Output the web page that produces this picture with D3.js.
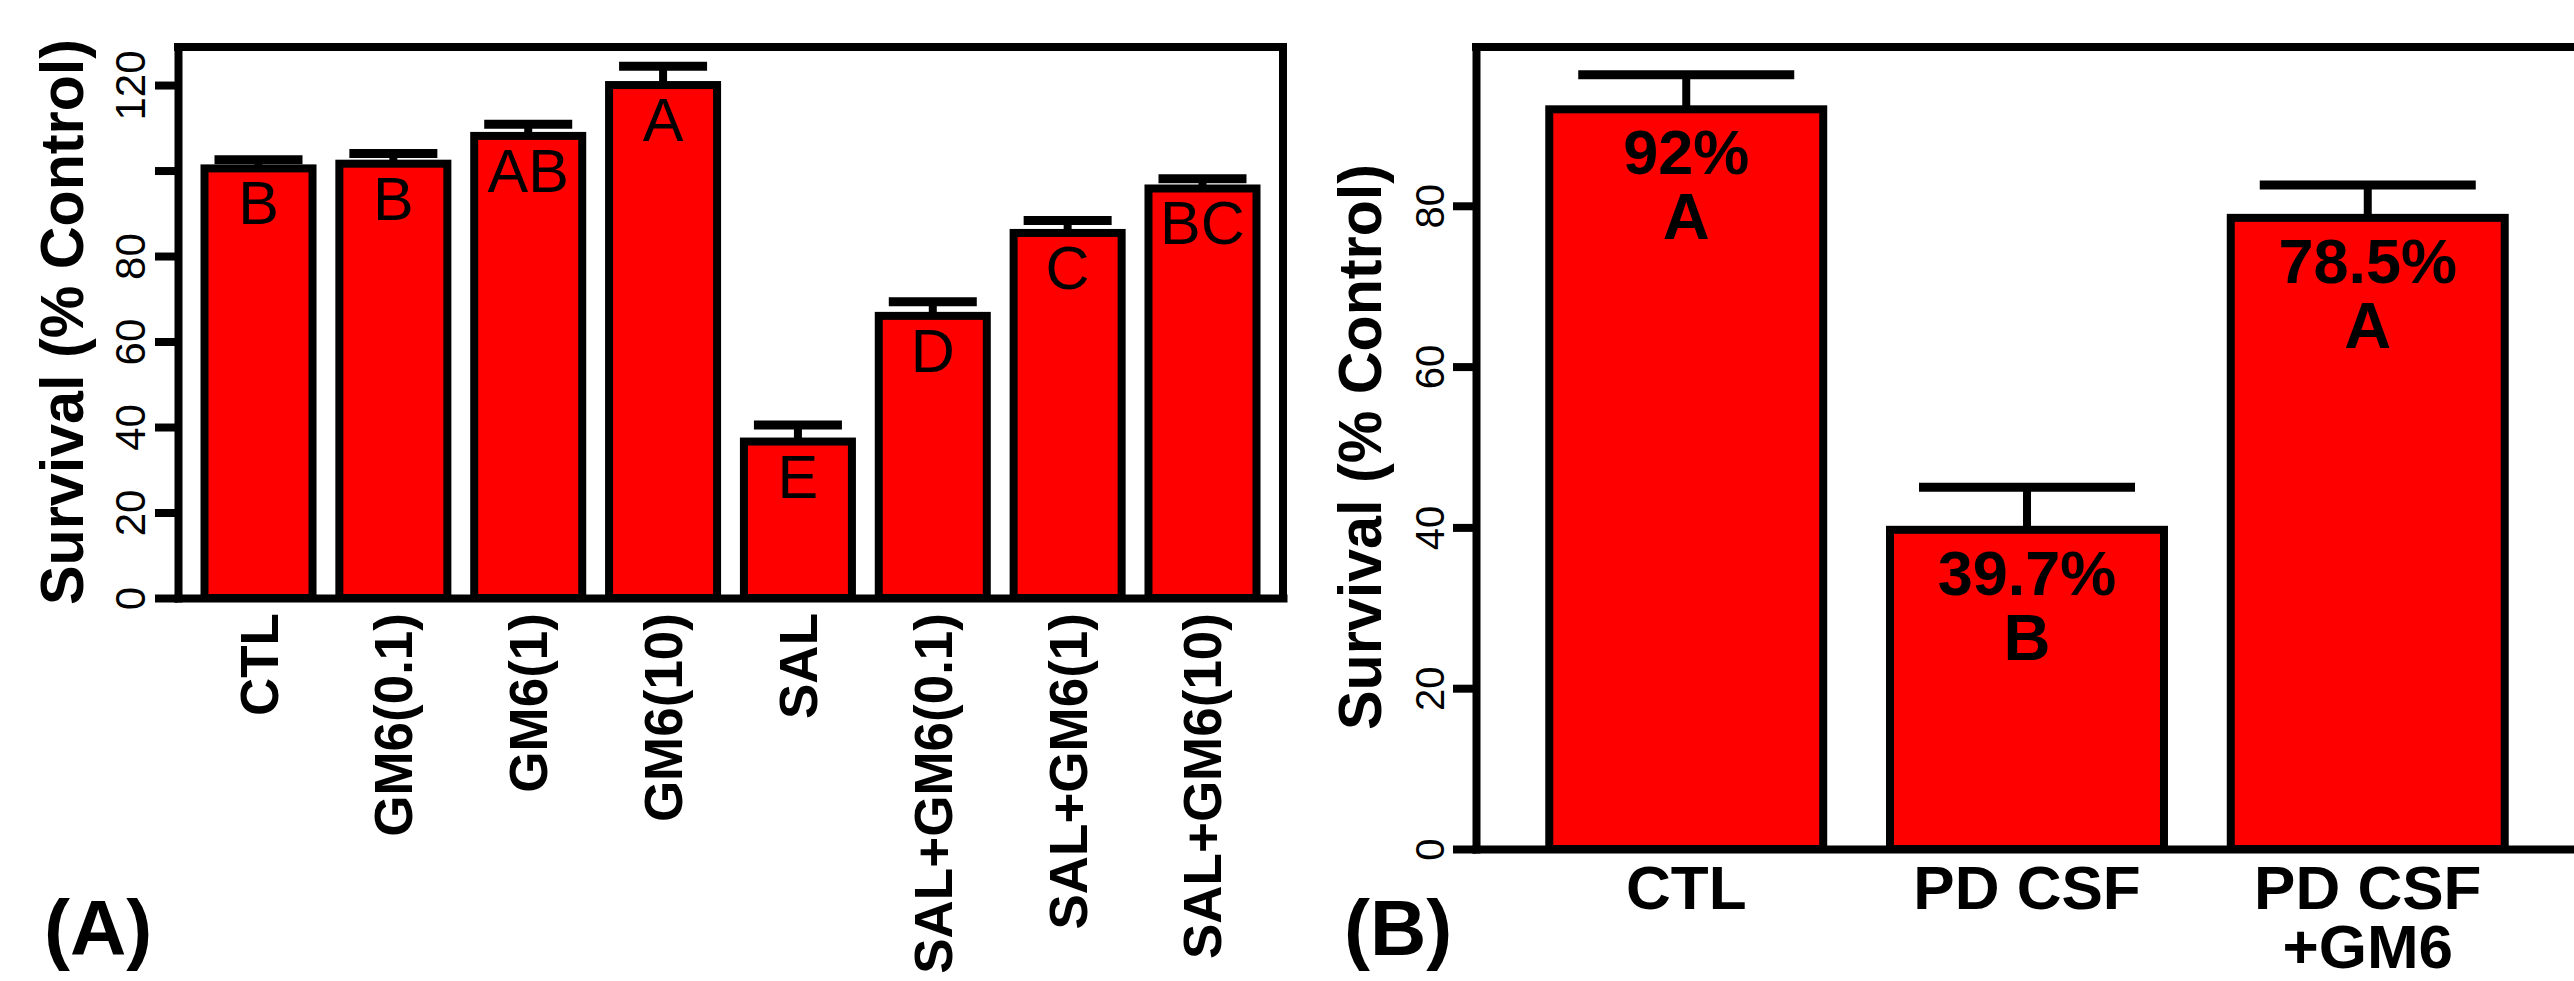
<!DOCTYPE html>
<html>
<head>
<meta charset="utf-8">
<script src="https://cdn.jsdelivr.net/npm/d3@7"></script>
<style>
    body { margin: 0; background: #fff; }
    text { font-family: "Liberation Sans", Arial, sans-serif; fill: #000; }
</style>
</head>
<body>
<svg id="chart"></svg>
<script>
// Panel A data: survival for each treatment
const panelACategories = ['CTL', 'GM6(0.1)', 'GM6(1)', 'GM6(10)', 'SAL', 'SAL+GM6(0.1)', 'SAL+GM6(1)', 'SAL+GM6(10)'];
const panelAValues = [100.5, 101.6, 108.1, 120.0, 36.6, 66.0, 85.4, 95.8];
const panelAErrors = [2.0, 2.4, 2.7, 4.4, 3.9, 3.3, 2.9, 2.3];
const panelALetters = ['B', 'B', 'AB', 'A', 'E', 'D', 'C', 'BC'];
const panelATicks = [0, 20, 40, 60, 80, 100, 120];
const panelATickLabels = ['0', '20', '40', '60', '80', '', '120'];

// Panel B data: PD CSF experiment
const panelBCategories = ['CTL', 'PD CSF', 'PD CSF +GM6'];
const panelBLabelLines = [['CTL'], ['PD CSF'], ['PD CSF', '+GM6']];
const panelBValues = [92, 39.7, 78.5];
const panelBErrors = [4.3, 5.3, 4.1];
const panelBValueLabels = ['92%', '39.7%', '78.5%'];
const panelBLetters = ['A', 'B', 'A'];
const panelBTicks = [0, 20, 40, 60, 80];

const yTitle = 'Survival (% Control)';

const svg = d3.select('#chart')
    .attr('width', 2574)
    .attr('height', 981);

svg.append('rect')
    .attr('width', 2574)
    .attr('height', 981)
    .attr('fill', '#fff');

// Draws one boxed bar panel
function drawPanel(p) {
    const g = svg.append('g');

    const x = d3.scaleBand()
        .domain(p.categories)
        .range([p.left, p.right])
        .paddingInner(p.padInner)
        .paddingOuter(p.padOuter);

    const y = d3.scaleLinear()
        .domain([0, p.yMax])
        .range([p.bottom, p.top]);

    // bars
    g.selectAll('.bar')
        .data(p.values)
        .enter().append('rect')
        .attr('class', 'bar')
        .attr('x', (d, i) => x(p.categories[i]))
        .attr('y', d => y(d))
        .attr('width', x.bandwidth())
        .attr('height', d => y(0) - y(d))
        .attr('fill', '#ff0000')
        .attr('stroke', '#000')
        .attr('stroke-width', 8);

    // error bars (upper only)
    const err = g.selectAll('.err')
        .data(p.values)
        .enter().append('g')
        .attr('class', 'err')
        .attr('transform', (d, i) => `translate(${x(p.categories[i]) + x.bandwidth() / 2},0)`);

    err.append('line')
        .attr('x1', 0).attr('x2', 0)
        .attr('y1', d => y(d))
        .attr('y2', (d, i) => y(d + p.errors[i]))
        .attr('stroke', '#000')
        .attr('stroke-width', 8);

    err.append('line')
        .attr('x1', -p.capWidth / 2).attr('x2', p.capWidth / 2)
        .attr('y1', (d, i) => y(d + p.errors[i]))
        .attr('y2', (d, i) => y(d + p.errors[i]))
        .attr('stroke', '#000')
        .attr('stroke-width', 9);

    // top and right of the box
    g.append('path')
        .attr('d', `M${p.left},${p.top}H${p.right}V${p.bottom}`)
        .attr('fill', 'none')
        .attr('stroke', '#000')
        .attr('stroke-width', 8)
        .attr('stroke-linecap', 'square');

    // y axis with rotated tick labels
    const yAxis = g.append('g')
        .attr('transform', `translate(${p.left},0)`)
        .call(d3.axisLeft(y)
            .tickValues(p.ticks)
            .tickSize(23)
            .tickSizeOuter(0)
            .tickFormat((d, i) => p.tickLabels[i]));

    yAxis.select('.domain')
        .attr('stroke', '#000')
        .attr('stroke-width', 8)
        .attr('stroke-linecap', 'square');
    yAxis.selectAll('.tick line')
        .attr('stroke', '#000')
        .attr('stroke-width', 8);
    yAxis.selectAll('.tick text')
        .attr('x', 0).attr('y', 0).attr('dy', 0)
        .attr('text-anchor', 'middle')
        .attr('transform', `translate(${-p.tickLabelGap},0) rotate(-90)`)
        .style('font-size', p.tickFont + 'px')
        .attr('fill', '#000');

    // x axis
    const xAxis = g.append('g')
        .attr('transform', `translate(0,${p.bottom})`)
        .call(d3.axisBottom(x).tickSize(0).tickSizeOuter(0));

    xAxis.select('.domain')
        .attr('stroke', '#000')
        .attr('stroke-width', 8)
        .attr('stroke-linecap', 'square');

    // y title
    g.append('text')
        .attr('transform', `translate(${p.titleX},${p.titleY}) rotate(-90)`)
        .attr('text-anchor', 'middle')
        .attr('textLength', 566)
        .attr('lengthAdjust', 'spacingAndGlyphs')
        .style('font-size', '62px')
        .style('font-weight', 'bold')
        .text(yTitle);

    // panel tag
    g.append('text')
        .attr('x', p.tagX)
        .attr('y', 955)
        .style('font-size', '78px')
        .style('font-weight', 'bold')
        .text(p.tag);

    return { g, x, y, xAxis };
}

// ---- Panel A ----
const a = drawPanel({
    categories: panelACategories,
    values: panelAValues,
    errors: panelAErrors,
    ticks: panelATicks,
    tickLabels: panelATickLabels,
    left: 178, right: 1283, top: 47, bottom: 598,
    yMax: 128.9,
    padInner: 0.199, padOuter: 0.1965,
    capWidth: 88,
    tickFont: 42, tickLabelGap: 33,
    titleX: 83, titleY: 322,
    tag: '(A)', tagX: 44
});

a.xAxis.selectAll('.tick text')
    .attr('x', 0).attr('y', 0).attr('dy', 0)
    .attr('text-anchor', 'end')
    .attr('transform', 'translate(19,15) rotate(-90)')
    .style('font-size', '53px')
    .style('font-weight', 'bold')
    .attr('fill', '#000');

a.g.selectAll('.letter')
    .data(panelAValues)
    .enter().append('text')
    .attr('class', 'letter')
    .attr('x', (d, i) => a.x(panelACategories[i]) + a.x.bandwidth() / 2)
    .attr('y', d => a.y(d) + 56)
    .attr('text-anchor', 'middle')
    .style('font-size', '61px')
    .text((d, i) => panelALetters[i]);

// ---- Panel B ----
const b = drawPanel({
    categories: panelBCategories,
    values: panelBValues,
    errors: panelBErrors,
    ticks: panelBTicks,
    tickLabels: panelBTicks.map(String),
    left: 1476, right: 2578, top: 47, bottom: 849,
    yMax: 99.75,
    padInner: 0.196, padOuter: 0.215,
    capWidth: 216,
    tickFont: 40, tickLabelGap: 32,
    titleX: 1381, titleY: 447,
    tag: '(B)', tagX: 1344
});

b.xAxis.selectAll('.tick text').each(function (d, i) {
    const t = d3.select(this)
        .attr('dy', null)
        .attr('y', null)
        .attr('text-anchor', 'middle')
        .style('font-size', '62px')
        .style('font-weight', 'bold')
        .attr('fill', '#000')
        .text(null);
    panelBLabelLines[i].forEach((line, j) => {
        t.append('tspan')
            .attr('x', 0)
            .attr('y', 60 + j * 59)
            .text(line);
    });
});

const bLabels = b.g.selectAll('.vlabel')
    .data(panelBValues)
    .enter().append('g')
    .attr('class', 'vlabel')
    .attr('transform', (d, i) => `translate(${b.x(panelBCategories[i]) + b.x.bandwidth() / 2},${b.y(d)})`);

bLabels.append('text')
    .attr('y', 65)
    .attr('text-anchor', 'middle')
    .style('font-size', '63px')
    .style('font-weight', 'bold')
    .text((d, i) => panelBValueLabels[i]);

bLabels.append('text')
    .attr('y', 130)
    .attr('text-anchor', 'middle')
    .style('font-size', '65px')
    .style('font-weight', 'bold')
    .text((d, i) => panelBLetters[i]);
</script>
</body>
</html>
